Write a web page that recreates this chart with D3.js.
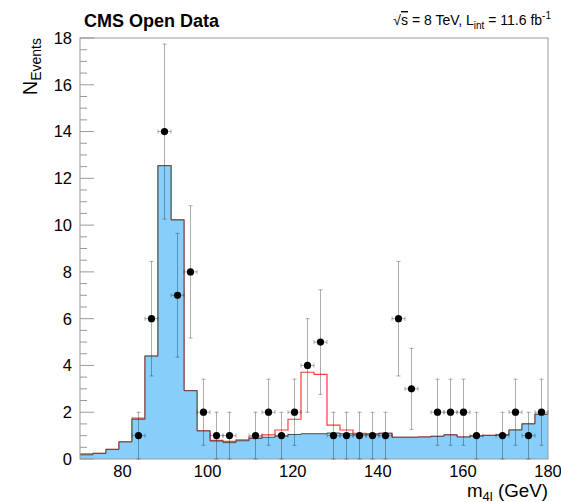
<!DOCTYPE html>
<html>
<head>
<meta charset="utf-8">
<script src="https://cdn.jsdelivr.net/npm/d3@7"></script>
<style>
  body { margin: 0; background: #fff; }
  text { font-family: "Liberation Sans", Arial, Helvetica, sans-serif; fill: #000; }
</style>
</head>
<body>
<div id="chart"></div>
<script>
// binning of the four-lepton mass histogram (GeV)
const massLo = 70, massHi = 180, nBins = 36;

// observed events per bin
const dataCounts = [0, 0, 0, 0, 1, 6, 14, 7, 8, 2, 1, 1, 0, 1, 2, 1, 2, 4,
                    5, 1, 1, 1, 1, 1, 6, 3, 0, 2, 2, 2, 1, 0, 1, 2, 1, 2];

// ZZ background expectation per bin
const bkgCounts = [0.18, 0.24, 0.41, 0.73, 1.70, 4.40, 12.54, 10.22, 2.92, 1.20, 0.77, 0.70,
                   0.78, 0.88, 0.93, 0.98, 1.05, 1.08, 1.08, 1.11, 1.08, 1.06, 1.06, 1.10,
                   0.93, 0.93, 0.94, 0.97, 1.03, 0.94, 0.98, 1.01, 1.03, 1.24, 1.50, 1.91];

// Higgs signal expectation per bin (stacked on background)
const sigCounts = [0.04, 0, 0, 0, 0.05, 0, 0, 0, 0, 0, 0.03, 0.05,
                   0.04, 0.06, 0.10, 0.26, 0.65, 2.63, 2.54, 0.34, 0.16, 0.04, 0.02, 0,
                   0, 0, 0, 0, 0, 0, 0, 0, 0, 0, 0, 0];

const xTicks = [80, 100, 120, 140, 160, 180];
const yTicks = [0, 2, 4, 6, 8, 10, 12, 14, 16, 18];

const W = 561, H = 502;
const margin = {top: 38, right: 13, bottom: 43, left: 80};
const width = W - margin.left - margin.right,
    height = H - margin.top - margin.bottom;

const svg = d3.select("#chart").append("svg")
    .attr("width", W)
    .attr("height", H);

const g = svg.append("g")
    .attr("transform", "translate(" + margin.left + "," + margin.top + ")");

const x = d3.scaleLinear().domain([massLo, massHi]).range([0, width]);
const y = d3.scaleLinear().domain([0, 18]).range([height, 0]);

const binW = (massHi - massLo) / nBins;
const bins = d3.range(nBins).map(i => ({
    lo: massLo + i * binW,
    hi: massLo + (i + 1) * binW,
    mid: massLo + (i + 0.5) * binW,
    data: dataCounts[i],
    bkg: bkgCounts[i],
    tot: bkgCounts[i] + sigCounts[i]
}));

// step path helper
function stepPoints(key) {
    let pts = [];
    bins.forEach(b => {
        pts.push([x(b.lo), y(b[key])]);
        pts.push([x(b.hi), y(b[key])]);
    });
    return pts;
}
const line = d3.line();

// signal + background outline (red)
g.append("path")
    .attr("d", line(stepPoints("tot")))
    .attr("fill", "none")
    .attr("stroke", "#ff3b3b")
    .attr("stroke-width", 1.2);

// background fill
const bkgPts = stepPoints("bkg");
g.append("path")
    .attr("d", line([[x(massLo), y(0)]].concat(bkgPts, [[x(massHi), y(0)]])) + "Z")
    .attr("fill", "#87cefa")
    .attr("stroke", "none");
g.append("path")
    .attr("d", line(bkgPts))
    .attr("fill", "none")
    .attr("stroke", "#4a4a4a")
    .attr("stroke-width", 1);

// frame
g.append("rect")
    .attr("width", width)
    .attr("height", height)
    .attr("fill", "none")
    .attr("stroke", "#9a9a9a")
    .attr("stroke-width", 1);

// y axis ticks (major + minor)
const yMinor = d3.range(0, 18.01, 0.5).filter(v => v % 2 !== 0);
g.append("g").selectAll("line.minor")
    .data(yMinor).enter().append("line")
    .attr("x1", 0).attr("x2", 7)
    .attr("y1", d => y(d)).attr("y2", d => y(d))
    .attr("stroke", "#9a9a9a");
g.append("g").selectAll("line.major")
    .data(yTicks).enter().append("line")
    .attr("x1", 0).attr("x2", 14)
    .attr("y1", d => y(d)).attr("y2", d => y(d))
    .attr("stroke", "#9a9a9a");
g.append("g").selectAll("text")
    .data(yTicks).enter().append("text")
    .attr("x", -8)
    .attr("y", d => y(d))
    .attr("dy", "0.36em")
    .attr("text-anchor", "end")
    .style("font-size", "16.5px")
    .text(d => d);

// x tick labels
g.append("g").selectAll("text")
    .data(xTicks).enter().append("text")
    .attr("x", d => x(d))
    .attr("y", height + 17.5)
    .attr("text-anchor", "middle")
    .style("font-size", "16.5px")
    .text(d => d);

// data points with sqrt(N) errors
const pts = bins.filter(b => b.data > 0);
const errColor = "rgba(40,40,40,0.38)";
const eb = g.append("g").attr("stroke", errColor).attr("stroke-width", 1);
pts.forEach(b => {
    const e = Math.sqrt(b.data);
    const cx = x(b.mid), cy = y(b.data);
    eb.append("line").attr("x1", cx).attr("x2", cx).attr("y1", y(b.data + e)).attr("y2", y(Math.max(0, b.data - e)));
    eb.append("line").attr("x1", cx - 2).attr("x2", cx + 2).attr("y1", y(b.data + e)).attr("y2", y(b.data + e));
    eb.append("line").attr("x1", cx - 2).attr("x2", cx + 2).attr("y1", y(Math.max(0, b.data - e))).attr("y2", y(Math.max(0, b.data - e)));
    eb.append("line").attr("x1", x(b.lo)).attr("x2", x(b.hi)).attr("y1", cy).attr("y2", cy);
    eb.append("line").attr("x1", x(b.lo)).attr("x2", x(b.lo)).attr("y1", cy - 2).attr("y2", cy + 2);
    eb.append("line").attr("x1", x(b.hi)).attr("x2", x(b.hi)).attr("y1", cy - 2).attr("y2", cy + 2);
});
g.append("g").selectAll("circle")
    .data(pts).enter().append("circle")
    .attr("cx", d => x(d.mid))
    .attr("cy", d => y(d.data))
    .attr("r", 3.6)
    .attr("fill", "#000");

// titles
svg.append("text")
    .attr("x", 84).attr("y", 27)
    .style("font-size", "18px")
    .style("font-weight", "bold")
    .text("CMS Open Data");

const lumi = svg.append("text")
    .attr("x", 551).attr("y", 25)
    .attr("text-anchor", "end")
    .style("font-size", "14px");
lumi.append("tspan").text("\u221A");
lumi.append("tspan").style("text-decoration", "overline").text("s");
lumi.append("tspan").text(" = 8 TeV, L");
lumi.append("tspan").attr("dy", 4).style("font-size", "10px").text("int");
lumi.append("tspan").attr("dy", -4).text(" = 11.6 fb");
lumi.append("tspan").attr("dy", -6).style("font-size", "10px").text("-1");

const xt = svg.append("text")
    .attr("x", 548).attr("y", 497)
    .attr("text-anchor", "end")
    .style("font-size", "18.8px");
xt.append("tspan").text("m");
xt.append("tspan").attr("dy", 3.5).style("font-size", "13px").text("4l");
xt.append("tspan").attr("dy", -3.5).text(" (GeV)");

const yt = svg.append("text")
    .attr("transform", "translate(37,38) rotate(-90)")
    .attr("text-anchor", "end")
    .style("font-size", "20px");
yt.append("tspan").text("N");
yt.append("tspan").attr("dy", 4).style("font-size", "14px").text("Events");
</script>
</body>
</html>
